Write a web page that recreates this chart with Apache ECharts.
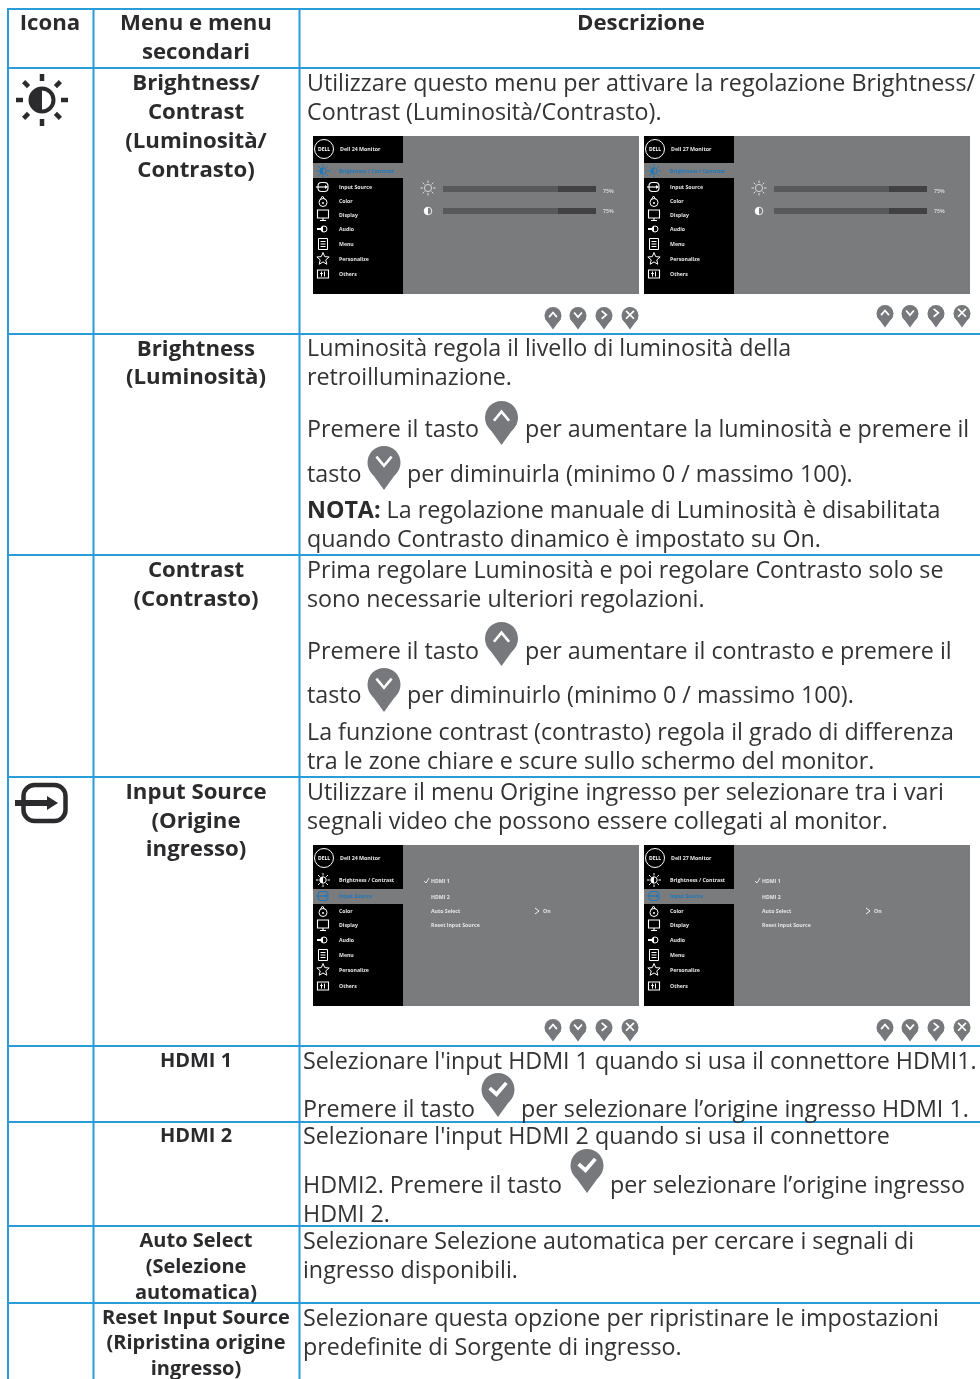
<!DOCTYPE html>
<html>
<head>
<meta charset="utf-8">
<title>Brightness / Input Source</title>
<style>
  html, body { margin: 0; padding: 0; background: #fff; }
  #main { width: 980px; height: 1379px; }
</style>
<script src="https://cdn.jsdelivr.net/npm/echarts@6/dist/echarts.min.js"></script>
</head>
<body>
<div id="main"></div>
<script>
// table text
const headerLabels = ["Icona", "Menu e menu", "secondari", "Descrizione"];
const menuLabels = [
  "Brightness/", "Contrast", "(Luminosità/", "Contrasto)",
  "Brightness", "(Luminosità)",
  "Contrast", "(Contrasto)",
  "Input Source", "(Origine", "ingresso)"
];
const subMenuLabels = [
  "HDMI 1", "HDMI 2",
  "Auto Select", "(Selezione", "automatica)",
  "Reset Input Source", "(Ripristina origine", "ingresso)"
];
const descriptionLines = [
  "Utilizzare questo menu per attivare la regolazione Brightness/",
  "Contrast (Luminosità/Contrasto).",
  "Luminosità regola il livello di luminosità della",
  "retroilluminazione.",
  "Premere il tasto",
  "per aumentare la luminosità e premere il",
  "tasto",
  "per diminuirla (minimo 0 / massimo 100).",
  "{b|NOTA:} La regolazione manuale di Luminosità è disabilitata",
  "quando Contrasto dinamico è impostato su On.",
  "Prima regolare Luminosità e poi regolare Contrasto solo se",
  "sono necessarie ulteriori regolazioni.",
  "Premere il tasto",
  "per aumentare il contrasto e premere il",
  "tasto",
  "per diminuirlo (minimo 0 / massimo 100).",
  "La funzione contrast (contrasto) regola il grado di differenza",
  "tra le zone chiare e scure sullo schermo del monitor.",
  "Utilizzare il menu Origine ingresso per selezionare tra i vari",
  "segnali video che possono essere collegati al monitor.",
  "Selezionare l'input HDMI 1 quando si usa il connettore HDMI1.",
  "Premere il tasto",
  "per selezionare l’origine ingresso HDMI 1.",
  "Selezionare l'input HDMI 2 quando si usa il connettore",
  "HDMI2. Premere il tasto",
  "per selezionare l’origine ingresso",
  "HDMI 2.",
  "Selezionare Selezione automatica per cercare i segnali di",
  "ingresso disponibili.",
  "Selezionare questa opzione per ripristinare le impostazioni",
  "predefinite di Sorgente di ingresso."
];

// on-screen menu text
const osdTitles = ["Dell 24 Monitor", "Dell 27 Monitor"];
const osdMenu = ["Brightness / Contrast", "Input Source", "Color", "Display", "Audio", "Menu", "Personalize", "Others"];
const osdInputs = ["HDMI 1", "HDMI 2", "Auto Select", "Reset Input Source"];
const sliderValues = [75, 75];

// layout
const menuY = [83, 112, 141, 170, 349, 377, 570, 599, 792, 821, 849];
const subMenuY = [1060, 1135, 1240, 1266, 1292, 1317, 1342, 1368];
const descX = [307, 307, 307, 307, 307, 525, 307, 407, 307, 307, 307, 307, 307, 525, 307, 407, 307, 307, 307, 307,
  303, 303, 521, 303, 303, 610, 303, 303, 303, 303, 303];
const descY = [83, 112, 348, 377, 429, 429, 474, 474, 510, 539, 570, 599, 651, 651, 695, 695, 732, 761, 792, 821,
  1061, 1109, 1109, 1136, 1185, 1185, 1214, 1241, 1270, 1318, 1347];
const rowLines = [9, 68, 334, 555, 777, 1046, 1122, 1226, 1303];
const colLines = [8, 93.5, 299.5];

const BLUE = "#2a9cd8";
const INK = "#333234";
const PIN = "#77787b";
const FONT = "Open Sans";

let els = [];

function text(x, y, str, o) {
  o = o || {};
  const size = o.size || 23.25;
  const style = {
    x: x, y: y + size * 0.05, text: str,
    fill: o.color || INK,
    fontFamily: o.font || FONT,
    fontSize: size,
    fontWeight: o.weight || "normal",
    align: o.align || "left",
    verticalAlign: "middle"
  };
  if (o.rich) style.rich = o.rich;
  els.push({ type: "text", silent: true, style: style });
}
function line(x1, y1, x2, y2, color, w) {
  els.push({ type: "line", silent: true, shape: { x1, y1, x2, y2 }, style: { stroke: color, lineWidth: w, lineCap: "butt" } });
}
function rect(x, y, w, h, fill, stroke, lw, r) {
  els.push({ type: "rect", silent: true, shape: { x, y, width: w, height: h, r: r || 0 },
    style: { fill: fill || "none", stroke: stroke || "none", lineWidth: lw || 0 } });
}
function circle(cx, cy, r, fill, stroke, lw) {
  els.push({ type: "circle", silent: true, shape: { cx, cy, r }, style: { fill: fill || "none", stroke: stroke || "none", lineWidth: lw || 0 } });
}
function poly(points, fill, stroke, lw, open) {
  els.push({ type: open ? "polyline" : "polygon", silent: true, shape: { points },
    style: { fill: open ? "none" : (fill || "none"), stroke: stroke || "none", lineWidth: lw || 0 } });
}
function halfDisc(cx, cy, r, fill) {
  els.push({ type: "sector", silent: true,
    shape: { cx, cy, r, r0: 0, startAngle: Math.PI / 2, endAngle: Math.PI * 1.5, clockwise: true }, style: { fill } });
}

// map pin button with a white glyph, cx/top/r in px
function pin(cx, top, r, glyph) {
  const cy = top + r;
  const tip = top + r * 2.66;
  const a = r * 0.93, b = r * 0.38;
  circle(cx, cy, r, PIN);
  poly([[cx - a, cy + b], [cx + a, cy + b], [cx, tip]], PIN);
  const g = cy - r * 0.08;
  const s = r * 0.46, w = Math.max(r * 0.16, 1.7);
  if (glyph === "up") poly([[cx - s, g + s * 0.6], [cx, g - s * 0.6], [cx + s, g + s * 0.6]], null, "#fff", w, true);
  if (glyph === "down") poly([[cx - s, g - s * 0.6], [cx, g + s * 0.6], [cx + s, g - s * 0.6]], null, "#fff", w, true);
  if (glyph === "right") poly([[cx - s * 0.6, g - s], [cx + s * 0.6, g], [cx - s * 0.6, g + s]], null, "#fff", w, true);
  if (glyph === "close") {
    line(cx - s, g - s, cx + s, g + s, "#fff", w);
    line(cx + s, g - s, cx - s, g + s, "#fff", w);
  }
  if (glyph === "check") poly([[cx - s * 1.1, g], [cx - s * 0.2, g + s * 0.8], [cx + s * 1.1, g - s * 0.7]], null, "#fff", w * 1.4, true);
}
function pinRow(xs, top, last) {
  const glyphs = ["up", "down", "right", last];
  xs.forEach((x, i) => pin(x, top, 8.5, glyphs[i]));
}

function sun(cx, cy, r, rayFrom, rayTo, color, w) {
  for (let i = 0; i < 8; i++) {
    const t = i * Math.PI / 4;
    line(cx + Math.cos(t) * rayFrom, cy + Math.sin(t) * rayFrom, cx + Math.cos(t) * rayTo, cy + Math.sin(t) * rayTo, color, w);
  }
}

function starPoints(cx, cy, R) {
  const pts = [];
  for (let i = 0; i < 10; i++) {
    const t = -Math.PI / 2 + i * Math.PI / 5;
    const rr = i % 2 ? R * 0.45 : R;
    pts.push([cx + Math.cos(t) * rr, cy + Math.sin(t) * rr]);
  }
  return pts;
}

function osdIcon(i, x, y, c) {
  if (i === 0) {
    sun(x, y, 3, 4.5, 7, c, 1);
    circle(x, y, 3.2, null, c, 1);
    halfDisc(x, y, 3.2, c);
  } else if (i === 1) {
    rect(x - 5, y - 4.5, 10, 9, null, c, 1.1, 3.5);
    line(x - 7, y, x + 3, y, c, 1.2);
    poly([[x + 2, y - 2], [x + 5, y], [x + 2, y + 2]], c);
  } else if (i === 2) {
    circle(x, y + 1.5, 4, null, c, 1);
    line(x - 0.5, y - 5, x + 1.5, y - 2, c, 1);
    line(x - 0.5, y - 5, x - 3, y - 1, c, 1);
    circle(x, y + 2, 1, c);
  } else if (i === 3) {
    rect(x - 5.5, y - 5, 11, 8, null, c, 1.1);
    line(x, y + 3, x, y + 5, c, 1.2);
    line(x - 3, y + 5.5, x + 3, y + 5.5, c, 1);
  } else if (i === 4) {
    poly([[x - 6, y - 1], [x - 2.5, y - 1], [x, y - 3.5], [x, y + 3.5], [x - 2.5, y + 1], [x - 6, y + 1]], c);
    circle(x + 1, y, 3, null, c, 1);
  } else if (i === 5) {
    rect(x - 4.5, y - 5.5, 9, 11, null, c, 1);
    line(x - 2.5, y - 2.5, x + 2.5, y - 2.5, c, 1);
    line(x - 2.5, y, x + 2.5, y, c, 1);
    line(x - 2.5, y + 2.5, x + 2.5, y + 2.5, c, 1);
  } else if (i === 6) {
    poly(starPoints(x, y, 6.5), null, c, 1);
  } else {
    rect(x - 5.5, y - 4, 11, 8, null, c, 1.1);
    line(x - 1.5, y - 2.5, x - 1.5, y + 2.5, c, 1);
    line(x + 1.5, y - 2.5, x + 1.5, y + 2.5, c, 1);
    line(x - 3, y - 0.5, x, y - 0.5, c, 0.9);
  }
}

// small screenshot of the monitor menu
function osd(x, top, h, title, active, rows, activeBand) {
  rect(x, top, 326, h, "#7a7b7d");
  rect(x, top, 90, h, "#000");
  rect(x, activeBand[0], 90, activeBand[1] - activeBand[0], "#7a7b7d");
  circle(x + 11, top + 13, 9.5, null, "#fff", 1);
  text(x + 11, top + 13, "DELL", { size: 5, weight: "bold", color: "#fff", align: "center" });
  text(x + 27, top + 13, title, { size: 5.3, weight: "bold", color: "#e6e6e6" });
  osdMenu.forEach((label, i) => {
    const c = i === active ? "#1f78bb" : "#fff";
    osdIcon(i, x + 10, rows[i], c);
    text(x + 26, rows[i], label, { size: 5.2, weight: "bold", color: i === active ? "#1f78bb" : "#e6e6e6" });
  });
}

function brightnessPanel(x, top) {
  osd(x, top, 158, osdTitles[x > 400 ? 1 : 0], 0, [171, 187, 201, 215, 229, 244, 259, 274], [163, 178]);
  const x0 = x + 130, x1 = x + 283;
  const barY = [186, 208];
  const labelY = [191, 211];
  sliderValues.forEach((v, i) => {
    const split = echarts.number.linearMap(v, [0, 100], [x0, x1], true);
    rect(x0, barY[i], split - x0, 6, "#58595b");
    rect(split, barY[i], x1 - split, 6, "#414042");
    text(x + 290, labelY[i], v + "%", { size: 5.2, weight: "bold", color: "#d0d0d0" });
  });
  sun(x + 115, 188, 3, 5, 7.5, "#ddd", 1);
  circle(x + 115, 188, 3.6, null, "#ddd", 0.9);
  circle(x + 115, 211, 3.8, null, "#eee", 1);
  halfDisc(x + 115, 211, 3.8, "#fff");
}

function inputPanel(x, top) {
  osd(x, top, 161, osdTitles[x > 400 ? 1 : 0], 1, [880, 896, 911, 925, 940, 955, 970, 986], [889, 904]);
  const y = [881, 897, 911, 925];
  osdInputs.forEach((label, i) => {
    text(x + 118, y[i], label, { size: 5.2, weight: "bold", color: "#e6e6e6" });
  });
  poly([[x + 111, 881], [x + 113, 883], [x + 116, 878]], null, "#fff", 0.8, true);
  poly([[x + 222, 908], [x + 226, 911], [x + 222, 914]], null, "#fff", 0.9, true);
  text(x + 230, 911, "On", { size: 5.2, weight: "bold", color: "#e6e6e6" });
}

// grid
rowLines.forEach((y) => line(colLines[0] - 1, y, 980, y, BLUE, 2));
colLines.forEach((x) => line(x, rowLines[0] - 1, x, 1379, BLUE, 2));

// header + menu columns
const headOpt = { size: 22.2, weight: "bold", align: "center", color: "#2b2a2c" };
text(50, 23, headerLabels[0], headOpt);
text(196, 23, headerLabels[1], headOpt);
text(196, 52, headerLabels[2], headOpt);
text(641, 23, headerLabels[3], headOpt);
menuLabels.forEach((s, i) => text(196, menuY[i], s, headOpt));
subMenuLabels.forEach((s, i) => text(196, subMenuY[i], s, { size: 20, weight: "bold", align: "center", color: "#2b2a2c" }));

// description column
descriptionLines.forEach((s, i) => text(descX[i], descY[i], s, {
  rich: { b: { fontFamily: FONT, fontSize: 23.25, fontWeight: "bold", fill: "#2b2a2c" } }
}));

// big icons in the first column
sun(42, 100, 14, 19, 26, "#2b2a2c", 4.5);
circle(42, 100, 11.5, "#fff", "#2b2a2c", 4);
halfDisc(42, 100, 11.5, "#2b2a2c");
rect(23.5, 785, 42, 36, null, "#2b2a2c", 4.5, 11);
rect(15, 800, 34, 6, "#2b2a2c");
poly([[47, 796], [58, 803], [47, 810]], "#2b2a2c");

// screenshots
brightnessPanel(313, 136);
brightnessPanel(644, 136);
inputPanel(313, 845);
inputPanel(644, 845);
pinRow([553, 578, 604, 630], 307, "close");
pinRow([885, 910, 936, 962], 305, "close");
pinRow([553, 578, 604, 630], 1019, "close");
pinRow([885, 910, 936, 962], 1019, "close");

// inline buttons
pin(501.5, 401, 16.5, "up");
pin(384, 446, 16.5, "down");
pin(501.5, 622, 16.5, "up");
pin(384, 668, 16.5, "down");
pin(498, 1073, 16.5, "check");
pin(587, 1149, 16.5, "check");

const chart = echarts.init(document.getElementById("main"), null, { renderer: "canvas" });
chart.setOption({
  backgroundColor: "#fff",
  animation: false,
  graphic: { elements: els }
});
</script>
</body>
</html>
